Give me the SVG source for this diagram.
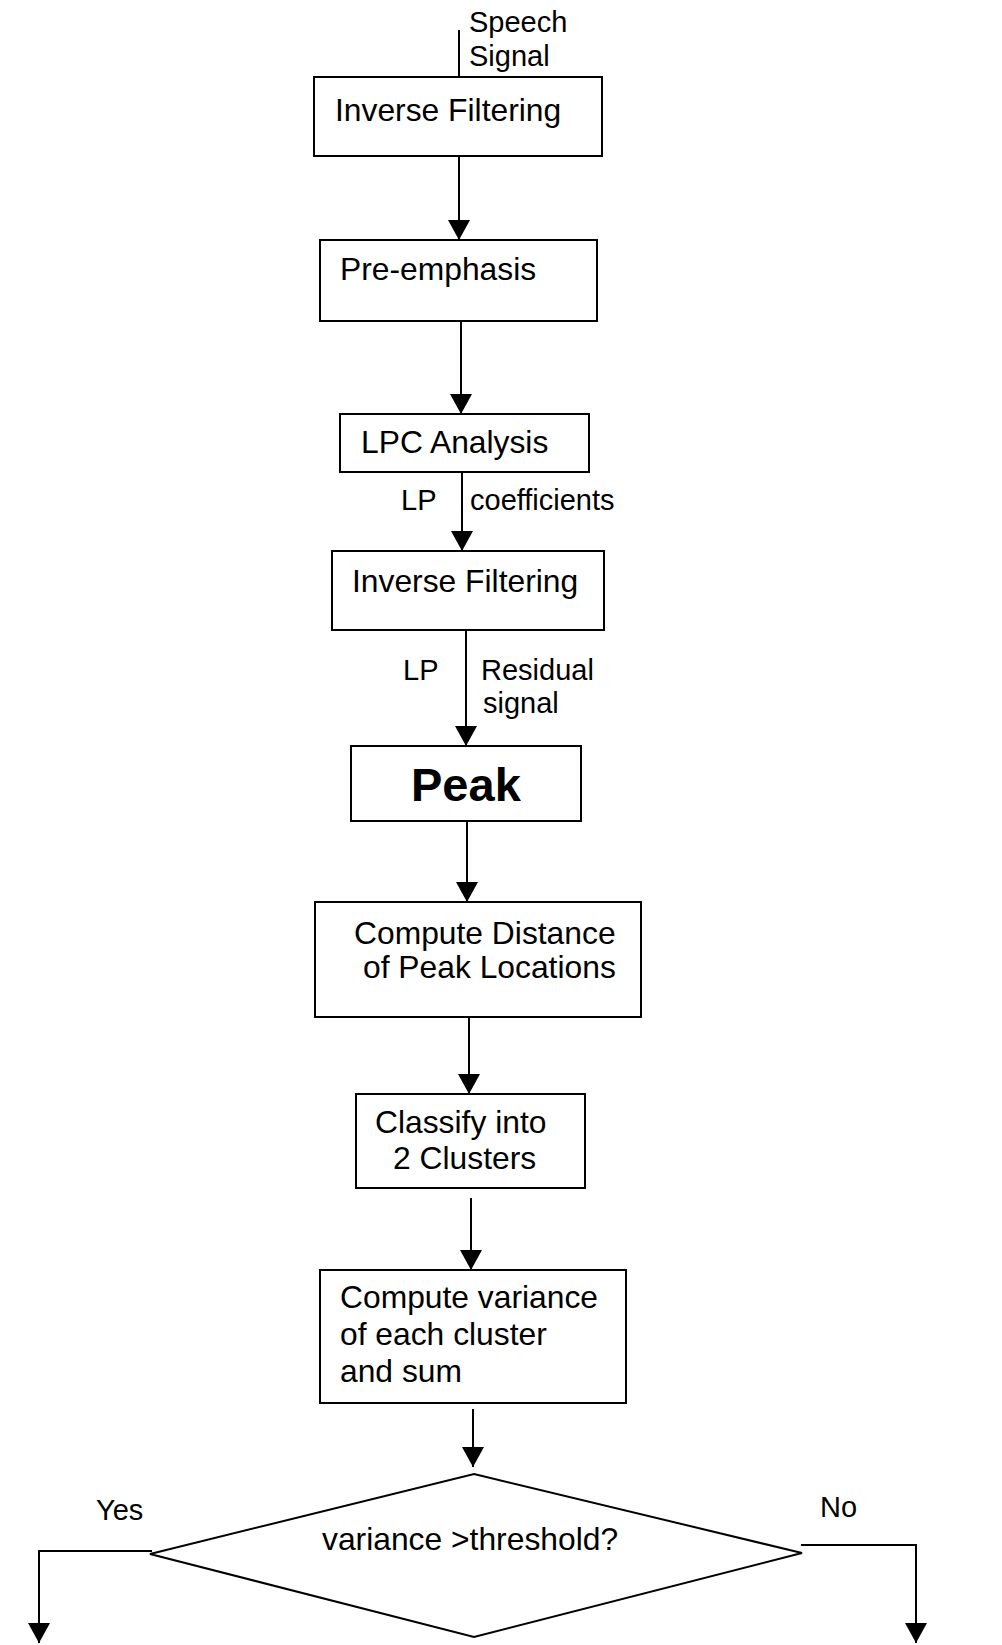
<svg xmlns="http://www.w3.org/2000/svg" width="1002" height="1645" viewBox="0 0 1002 1645">
  <style>
    .box { fill: #fff; stroke: #000; stroke-width: 2; }
    .lbl { font-family: "Liberation Sans", Arial, sans-serif; font-size: 31.8px; fill: #000; }
    .sm { font-family: "Liberation Sans", Arial, sans-serif; font-size: 29px; fill: #000; }
    .big { font-family: "Liberation Sans", Arial, sans-serif; font-size: 47px; font-weight: bold; fill: #000; }
    .wire { fill: none; stroke: #000; stroke-width: 2; }
  </style>
  <defs>
    <marker id="arrow" viewBox="0 0 20 22" refX="20" refY="11" markerWidth="20" markerHeight="22" markerUnits="userSpaceOnUse" orient="auto">
      <path d="M0,0 L20,11 L0,22 Z" fill="#000"/>
    </marker>
  </defs>
  <rect width="1002" height="1645" fill="#fff"/>

  <!-- connectors and their labels -->
  <g id="connectors">
    <line class="wire" x1="459" y1="30" x2="459" y2="77"/>
    <text class="sm" x="469" y="32">Speech</text>
    <text class="sm" x="469" y="66">Signal</text>
    <line class="wire" x1="459" y1="156" x2="459" y2="240" marker-end="url(#arrow)"/>
    <line class="wire" x1="461" y1="321" x2="461" y2="414" marker-end="url(#arrow)"/>
    <line class="wire" x1="462" y1="472" x2="462" y2="551" marker-end="url(#arrow)"/>
    <text class="sm" x="401" y="510">LP</text>
    <text class="sm" x="470" y="510">coefficients</text>
    <line class="wire" x1="466" y1="630" x2="466" y2="746" marker-end="url(#arrow)"/>
    <text class="sm" x="403" y="680">LP</text>
    <text class="sm" x="481" y="680">Residual</text>
    <text class="sm" x="483" y="713">signal</text>
    <line class="wire" x1="467" y1="821" x2="467" y2="902" marker-end="url(#arrow)"/>
    <line class="wire" x1="469" y1="1017" x2="469" y2="1094" marker-end="url(#arrow)"/>
    <line class="wire" x1="471" y1="1198" x2="471" y2="1270" marker-end="url(#arrow)"/>
    <line class="wire" x1="473" y1="1409" x2="473" y2="1467" marker-end="url(#arrow)"/>
    <polyline class="wire" points="152,1551 39,1551 39,1643" marker-end="url(#arrow)"/>
    <text class="sm" x="96" y="1520">Yes</text>
    <polyline class="wire" points="801,1545 916,1545 916,1643" marker-end="url(#arrow)"/>
    <text class="sm" x="820" y="1517">No</text>
  </g>

  <g id="inverse-filtering-1">
    <rect class="box" x="314" y="77" width="288" height="79"/>
    <text class="lbl" x="335" y="121">Inverse Filtering</text>
  </g>

  <g id="pre-emphasis">
    <rect class="box" x="320" y="240" width="277" height="81"/>
    <text class="lbl" x="340" y="280">Pre-emphasis</text>
  </g>

  <g id="lpc-analysis">
    <rect class="box" x="340" y="414" width="249" height="58"/>
    <text class="lbl" x="361" y="453">LPC Analysis</text>
  </g>

  <g id="inverse-filtering-2">
    <rect class="box" x="332" y="551" width="272" height="79"/>
    <text class="lbl" x="352" y="592">Inverse Filtering</text>
  </g>

  <g id="peak">
    <rect class="box" x="351" y="746" width="230" height="75"/>
    <text class="big" x="411" y="801">Peak</text>
  </g>

  <g id="compute-distance">
    <rect class="box" x="315" y="902" width="326" height="115"/>
    <text class="lbl" x="354" y="944">Compute Distance</text>
    <text class="lbl" x="363" y="978">of Peak Locations</text>
  </g>

  <g id="classify">
    <rect class="box" x="356" y="1094" width="229" height="94"/>
    <text class="lbl" x="375" y="1133">Classify into</text>
    <text class="lbl" x="393" y="1169">2 Clusters</text>
  </g>

  <g id="compute-variance">
    <rect class="box" x="320" y="1270" width="306" height="133"/>
    <text class="lbl" x="340" y="1308">Compute variance</text>
    <text class="lbl" x="340" y="1345">of each cluster</text>
    <text class="lbl" x="340" y="1382">and sum</text>
  </g>

  <g id="decision">
    <polygon class="box" points="474,1474 802,1553 474,1637 150,1554"/>
    <text class="lbl" x="322" y="1550">variance &gt;threshold?</text>
  </g>
</svg>
